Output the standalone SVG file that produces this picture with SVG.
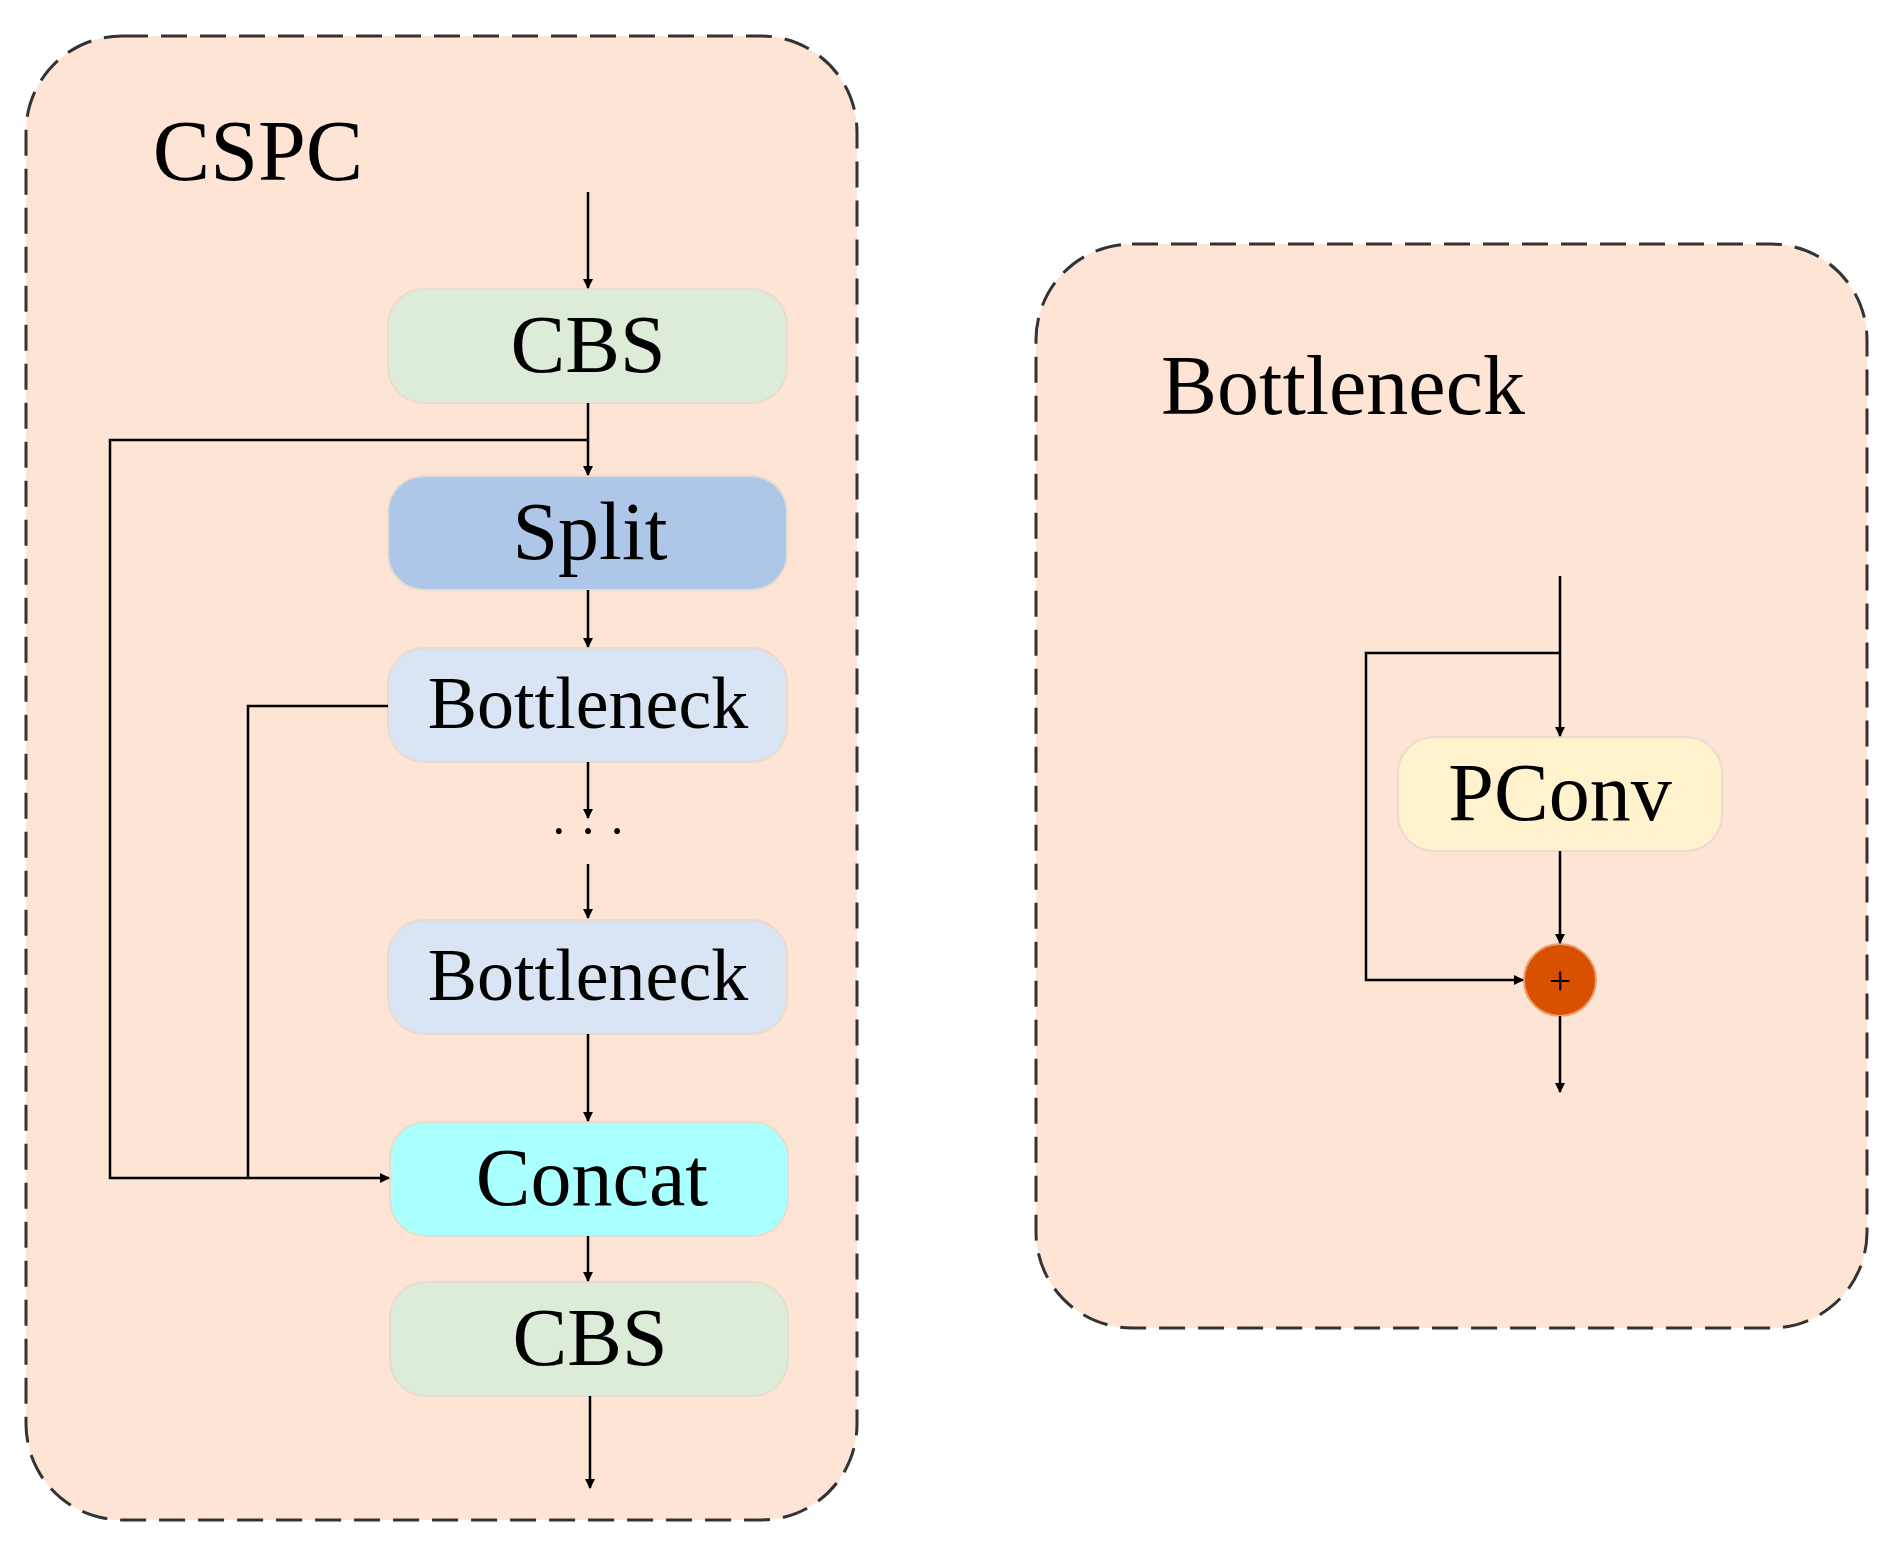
<svg xmlns="http://www.w3.org/2000/svg" width="1884" height="1556" viewBox="0 0 1884 1556">
<style>
.panel{fill:#fde4d4;stroke:#333;stroke-width:3;stroke-dasharray:26 13}
.box{stroke:#e6ddd0;stroke-width:2}
.t{font-family:"Liberation Serif",serif;text-anchor:middle;fill:#000}
.ln{stroke:#000;stroke-width:2.5;fill:none}
.ar{stroke:#000;stroke-width:2.5;fill:none;marker-end:url(#ah)}
</style>
<defs><marker id="ah" markerWidth="10" markerHeight="10" refX="9" refY="5" orient="auto" markerUnits="userSpaceOnUse"><path d="M0,0 L10,5 L0,10 z" fill="#000"/></marker></defs>
<g id="cspc-panel"><rect class="panel" x="26" y="36" width="831" height="1484" rx="96"/>
<text class="t" x="258" y="180" font-size="86">CSPC</text></g>
<g id="cbs1"><rect class="box" x="388" y="289" width="399" height="114" rx="36" fill="#dcecd8"/><text class="t" x="588" y="372" font-size="82">CBS</text></g>
<g id="split"><rect class="box" x="388" y="476" width="399" height="114" rx="36" fill="#aec6e8"/><text class="t" x="590" y="559" font-size="82">Split</text></g>
<g id="bn1"><rect class="box" x="388" y="648" width="399" height="114" rx="36" fill="#d9e4f5"/><text class="t" x="588" y="728" font-size="74">Bottleneck</text></g>
<g id="dots"><text class="t" x="588" y="848" font-size="50">· · ·</text></g>
<g id="bn2"><rect class="box" x="388" y="920" width="399" height="114" rx="36" fill="#d9e4f5"/><text class="t" x="588" y="1000" font-size="74">Bottleneck</text></g>
<g id="concat"><rect class="box" x="390" y="1122" width="398" height="114" rx="36" fill="#aaffff"/><text class="t" x="592" y="1205" font-size="82">Concat</text></g>
<g id="cbs2"><rect class="box" x="390" y="1282" width="398" height="114" rx="36" fill="#dcecd8"/><text class="t" x="590" y="1365" font-size="82">CBS</text></g>
<g id="bottleneck-panel"><rect class="panel" x="1036" y="244" width="831" height="1084" rx="96"/>
<text class="t" x="1343" y="414" font-size="84">Bottleneck</text></g>
<g id="pconv"><rect class="box" x="1398" y="737" width="324" height="114" rx="36" fill="#fff2cc"/><text class="t" x="1560" y="820" font-size="82">PConv</text></g>
<g id="add"><circle cx="1560" cy="980" r="36" fill="#d95000" stroke="#e8a070" stroke-width="2"/><text class="t" x="1560" y="994" font-size="40">+</text></g>
<g id="connectors">
<path class="ar" d="M588,192 V288"/>
<path class="ar" d="M588,403 V475"/>
<path class="ar" d="M588,440 H110 V1178 H389"/>
<path class="ln" d="M388,706 H248 V1178"/>
<path class="ar" d="M588,590 V647"/>
<path class="ar" d="M588,762 V818"/>
<path class="ar" d="M588,864 V918"/>
<path class="ar" d="M588,1034 V1121"/>
<path class="ar" d="M588,1236 V1281"/>
<path class="ar" d="M590,1396 V1488"/>
<path class="ar" d="M1560,576 V736"/>
<path class="ar" d="M1560,653 H1366 V980 H1523"/>
<path class="ar" d="M1560,851 V943"/>
<path class="ar" d="M1560,1016 V1092"/>
</g>
</svg>
